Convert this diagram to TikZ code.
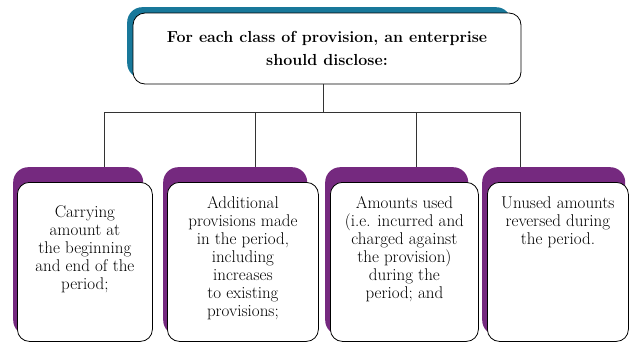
\documentclass[tikz,border=0pt]{standalone}
\usepackage{tikz}
\usetikzlibrary{positioning}
\definecolor{plum}{HTML}{75297F}
\definecolor{teal}{HTML}{18789A}
\definecolor{rule}{HTML}{333333}

\begin{document}
\begin{tikzpicture}[
  x=1pt,y=-1pt,
  frame/.style={draw=black,line width=0.8pt,fill=white,rounded corners=12pt,inner sep=0pt,anchor=north west},
  shade/.style={fill=plum,rounded corners=15pt,inner sep=0pt,anchor=north west,minimum height=168pt},
  txt/.style={align=center,inner sep=0pt,font=\fontsize{17}{18}\selectfont},
  link/.style={draw=rule,line width=0.9pt}
]
\useasboundingbox (0,0) rectangle (629,343);
% head box
\node[fill=teal,rounded corners=15pt,inner sep=0pt,anchor=north west,
  minimum width=384pt,minimum height=71pt] (sh) at (127,7) {};
\node[frame,anchor=center,minimum width=388pt,minimum height=71pt,
  font=\bfseries\fontsize{16}{22.5}\selectfont,align=center] (top) at (327,48.5)
  {For each class of provision, an enterprise\\should disclose:};
% shadows
\node[shade,minimum width=130pt] (s1) at (13,167) {};
\node[shade,minimum width=144pt] (s2) at (163,167) {};
\node[shade,minimum width=143pt] (s3) at (325,167) {};
\node[shade,minimum width=143pt] (s4) at (482,167) {};
% boxes
\node[frame,minimum width=135pt,minimum height=159pt] (b1) at (17,182) {};
\node[frame,minimum width=151pt,minimum height=159pt] (b2) at (167,182) {};
\node[frame,minimum width=148pt,minimum height=159pt] (b3) at (330,182) {};
\node[frame,minimum width=141pt,minimum height=159pt] (b4) at (487,182) {};
\node[txt,below=23pt of b1.north] (t1) {Carrying\\amount at\\the beginning\\and end of the\\period;};
\node[txt,below=14pt of b2.north] (t2) {Additional\\provisions made\\in the period,\\including\\increases\\to existing\\provisions;};
\node[txt,below=14pt of b3.north] (t3) {Amounts used\\(i.e. incurred and\\charged against\\the provision)\\during the\\period; and};
\node[txt,below=14pt of b4.north] (t4) {Unused amounts\\reversed during\\the period.};
% tree lines
\coordinate (hub) at (323,112);
\coordinate (d1) at (104,112);
\coordinate (d2) at (255,112);
\coordinate (d3) at (416,112);
\coordinate (d4) at (520,112);
\draw[link] (hub |- top.south) -- (hub);
\draw[link] (d1) -- (d4);
\draw[link] (d1) -- (d1 |- s1.north);
\draw[link] (d2) -- (d2 |- s2.north);
\draw[link] (d3) -- (d3 |- s3.north);
\draw[link] (d4) -- (d4 |- s4.north);
\end{tikzpicture}
\end{document}
